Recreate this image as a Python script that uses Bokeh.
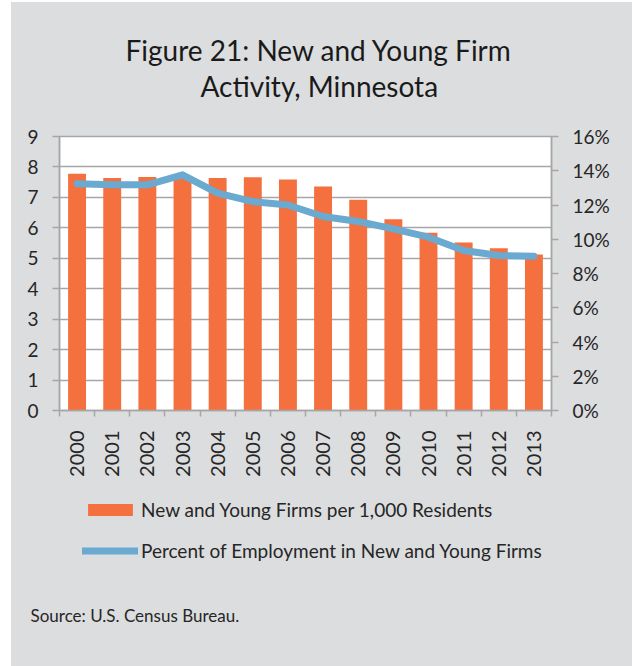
from math import pi
from bokeh.plotting import figure
from bokeh.layouts import column
from bokeh.models import (Range1d, LinearAxis, FixedTicker, PrintfTickFormatter,
                          Legend, LegendItem, Title, ColumnDataSource)
from bokeh.embed import file_html
from bokeh.resources import INLINE

# ---- data ----
years = ["2000", "2001", "2002", "2003", "2004", "2005", "2006",
         "2007", "2008", "2009", "2010", "2011", "2012", "2013"]
firms_per_1000 = [7.78, 7.64, 7.67, 7.66, 7.64, 7.66, 7.59,
                  7.36, 6.92, 6.28, 5.84, 5.52, 5.33, 5.12]
pct_employment = [13.24, 13.18, 13.18, 13.76, 12.69, 12.20, 12.00,
                  11.33, 11.04, 10.61, 10.12, 9.34, 9.05, 9.01]
left_ticks = [0, 1, 2, 3, 4, 5, 6, 7, 8, 9]
right_ticks = [0, 2, 4, 6, 8, 10, 12, 14, 16]
title_line1 = "Figure 21: New and Young Firm"
title_line2 = "Activity, Minnesota"
bar_label = "New and Young Firms per 1,000 Residents"
line_label = "Percent of Employment in New and Young Firms"
source_text = "Source: U.S. Census Bureau."

FONT = "Lato"
GRID = "#A6A6A6"
TXT = "#262626"
BG = "#DCDDDF"
BAR = "#F4703F"
LINE = "#6AA9D0"

xs = list(range(len(years)))
src = ColumnDataSource(dict(x=xs, year=years, firms=firms_per_1000, pct=pct_employment))

# ---------------- main chart ----------------
p = figure(width=632, height=490, output_backend="svg", toolbar_location=None,
           x_range=Range1d(-0.5, len(years) - 0.5), y_range=Range1d(0, 9),
           min_border_left=59, min_border_right=81, min_border_top=136,
           min_border_bottom=80, background_fill_color="white",
           border_fill_alpha=0, outline_line_color=GRID, outline_line_width=1.5)
p.extra_y_ranges = {"pct": Range1d(0, 16)}

# title: p.title is outermost; the added title sits next to the frame
p.title.text = title_line1
p.title.align = "left"
p.title.offset = 66
p.title.text_font = FONT
p.title.text_font_size = "28px"
p.title.text_font_style = "normal"
p.title.text_color = "#1A1A1A"
p.title.standoff = -66
t2 = Title(text=title_line2, align="left", offset=141, text_font=FONT,
           text_font_size="28px", text_font_style="normal", text_color="#1A1A1A",
           standoff=67)
p.add_layout(t2, "above")

# grids
p.xgrid.grid_line_color = None
p.ygrid.ticker = FixedTicker(ticks=left_ticks)
p.ygrid.grid_line_color = GRID
p.ygrid.grid_line_width = 1.5

# left axis
ya = p.yaxis[0]
ya.ticker = FixedTicker(ticks=left_ticks)
ya.axis_line_color = GRID
ya.axis_line_width = 1.5
ya.major_tick_line_color = GRID
ya.major_tick_line_width = 1.5
ya.major_tick_out = 7
ya.major_tick_in = 0
ya.minor_tick_line_color = None
ya.major_label_standoff = 14
ya.major_label_text_font = FONT
ya.major_label_text_font_size = "19px"
ya.major_label_text_color = TXT

# right axis
ra = LinearAxis(y_range_name="pct", ticker=FixedTicker(ticks=right_ticks),
                formatter=PrintfTickFormatter(format="%d%%"))
ra.axis_line_color = GRID
ra.axis_line_width = 1.5
ra.major_tick_line_color = GRID
ra.major_tick_line_width = 1.5
ra.major_tick_out = 7
ra.major_tick_in = 0
ra.minor_tick_line_color = None
ra.major_label_standoff = 14
ra.major_label_text_font = FONT
ra.major_label_text_font_size = "19px"
ra.major_label_text_color = TXT
p.add_layout(ra, "right")

# bottom axis
xa = p.xaxis[0]
xa.ticker = FixedTicker(ticks=xs, minor_ticks=[i - 0.5 for i in range(len(years) + 1)])
xa.major_label_overrides = {i: y for i, y in zip(xs, years)}
xa.major_label_orientation = pi / 2
xa.axis_line_color = GRID
xa.axis_line_width = 1.5
xa.major_tick_line_color = None
xa.major_tick_out = 0
xa.major_tick_in = 0
xa.minor_tick_line_color = GRID
xa.minor_tick_line_width = 1.5
xa.minor_tick_out = 6
xa.minor_tick_in = 0
xa.major_label_standoff = 14
xa.major_label_text_font = FONT
xa.major_label_text_font_size = "20px"
xa.major_label_text_color = TXT

bars = p.vbar(x="x", top="firms", width=0.51, source=src,
              fill_color=BAR, line_color=None)
line = p.line(x="x", y="pct", y_range_name="pct", source=src,
              line_color=LINE, line_width=7, line_join="round", line_cap="round")

# ---------------- legend + source strip ----------------
q = figure(width=632, height=176, output_backend="svg", toolbar_location=None,
           x_range=Range1d(-100, -99), y_range=Range1d(0, 1),
           x_axis_type=None, y_axis_type=None,
           min_border_left=59, min_border_right=81, min_border_top=0, min_border_bottom=76,
           background_fill_alpha=0, border_fill_alpha=0, outline_line_color=None)
q.grid.grid_line_color = None
# same series, same styles; hidden here so that only their legend swatches show
qbars = q.vbar(x="x", top="firms", width=0.51, source=src,
               fill_color=BAR, line_color=None, visible=False)
qline = q.line(x="x", y="pct", source=src, visible=False,
               line_color=LINE, line_width=7, line_join="round", line_cap="round")

legend = Legend(items=[LegendItem(label=bar_label, renderers=[qbars]),
                       LegendItem(label=line_label, renderers=[qline])],
                location=(23, 28), orientation="vertical",
                background_fill_alpha=0, border_line_color=None,
                inactive_fill_alpha=0,
                padding=0, margin=0, spacing=18, glyph_width=56, glyph_height=15,
                label_height=22, label_standoff=3,
                label_text_font=FONT, label_text_font_size="19px",
                label_text_color=TXT)
q.add_layout(legend)

src_title = Title(text=source_text, align="left", offset=-29, text_font=FONT,
                  text_font_size="17px", text_font_style="normal", text_color=TXT,
                  standoff=24)
q.add_layout(src_title, "below")

# grey panel behind both parts, with the thin white page edge at left and top
panel_bg = ("linear-gradient(to bottom, #FFFFFF 0px, #FFFFFF 2px, rgba(0,0,0,0) 2px), "
            f"linear-gradient(to right, #FFFFFF 0px, #FFFFFF 11px, {BG} 11px)")
layout = column(p, q, spacing=0, styles={"background": panel_bg})
open("out.html", "w").write(file_html(layout, INLINE))
